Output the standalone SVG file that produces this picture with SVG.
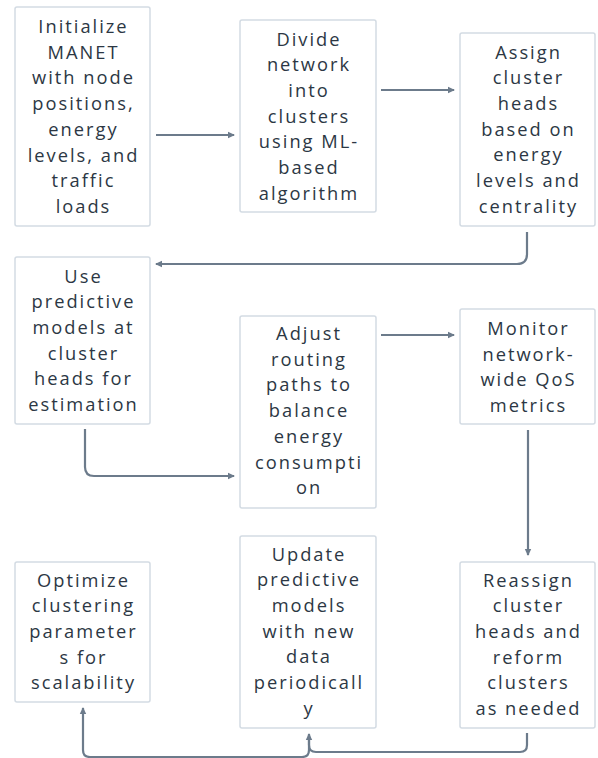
<svg xmlns="http://www.w3.org/2000/svg" width="598" height="758" viewBox="0 0 598 758">
<style>
.box{fill:#ffffff;stroke:#d3dbe3;stroke-width:1.5}
.t{font-family:"Open Sans","Liberation Sans",sans-serif;font-size:18.3px;font-weight:500;fill:#2c3744;text-anchor:middle;letter-spacing:2px}
.c{fill:none;stroke:#6c7b8b;stroke-width:2.2}
</style>
<defs>
<marker id="ah" markerWidth="8" markerHeight="8" refX="6" refY="4" orient="auto" markerUnits="userSpaceOnUse">
<path d="M0,0.8 L7,4 L0,7.2 Z" fill="#6c7b8b"/>
</marker>
</defs>
<rect width="598" height="758" fill="#ffffff"/>
<g id="connectors">
<path class="c" d="M156,135 H234" marker-end="url(#ah)"/>
<path class="c" d="M381,90 H454" marker-end="url(#ah)"/>
<path class="c" d="M527,232 V254 Q527,264 517,264 H156" marker-end="url(#ah)"/>
<path class="c" d="M85,429 V467 Q85,476 94,476 H234" marker-end="url(#ah)"/>
<path class="c" d="M381,335 H454" marker-end="url(#ah)"/>
<path class="c" d="M528,430 V555" marker-end="url(#ah)"/>
<path class="c" d="M527,733 V745 Q527,752 520,752 H316 Q309,752 309,745 V734" marker-end="url(#ah)"/>
<path class="c" d="M309,735 V750 Q309,757 302,757 H90 Q83,757 83,750 V708" marker-end="url(#ah)"/>
</g>
<g id="n1">
<rect class="box" x="15" y="7" width="135" height="219" rx="2"/>
<text class="t"><tspan x="83.5" y="33">Initialize</tspan><tspan x="83.5" y="58.7">MANET</tspan><tspan x="83.5" y="84.4">with node</tspan><tspan x="83.5" y="110.1">positions,</tspan><tspan x="83.5" y="135.8">energy</tspan><tspan x="83.5" y="161.5">levels, and</tspan><tspan x="83.5" y="187.2">traffic</tspan><tspan x="83.5" y="212.9">loads</tspan></text>
</g>
<g id="n2">
<rect class="box" x="240" y="20" width="136" height="192" rx="2"/>
<text class="t"><tspan x="309" y="45.5">Divide</tspan><tspan x="309" y="71.2">network</tspan><tspan x="309" y="96.9">into</tspan><tspan x="309" y="122.6">clusters</tspan><tspan x="309" y="148.3">using ML-</tspan><tspan x="309" y="174">based</tspan><tspan x="309" y="199.7">algorithm</tspan></text>
</g>
<g id="n3">
<rect class="box" x="460" y="33" width="135" height="193" rx="2"/>
<text class="t"><tspan x="528.5" y="58.5">Assign</tspan><tspan x="528.5" y="84.2">cluster</tspan><tspan x="528.5" y="109.9">heads</tspan><tspan x="528.5" y="135.6">based on</tspan><tspan x="528.5" y="161.3">energy</tspan><tspan x="528.5" y="187">levels and</tspan><tspan x="528.5" y="212.7">centrality</tspan></text>
</g>
<g id="n4">
<rect class="box" x="15" y="257" width="135" height="167" rx="2"/>
<text class="t"><tspan x="83.5" y="282.5">Use</tspan><tspan x="83.5" y="308.2">predictive</tspan><tspan x="83.5" y="333.9">models at</tspan><tspan x="83.5" y="359.6">cluster</tspan><tspan x="83.5" y="385.3">heads for</tspan><tspan x="83.5" y="411">estimation</tspan></text>
</g>
<g id="n5">
<rect class="box" x="240" y="316" width="136" height="192" rx="2"/>
<text class="t"><tspan x="309" y="340">Adjust</tspan><tspan x="309" y="365.7">routing</tspan><tspan x="309" y="391.4">paths to</tspan><tspan x="309" y="417.1">balance</tspan><tspan x="309" y="442.8">energy</tspan><tspan x="309" y="468.5">consumpti</tspan><tspan x="309" y="494.2">on</tspan></text>
</g>
<g id="n6">
<rect class="box" x="460" y="309" width="135" height="115" rx="2"/>
<text class="t"><tspan x="528.5" y="335">Monitor</tspan><tspan x="528.5" y="360.7">network-</tspan><tspan x="528.5" y="386.4">wide QoS</tspan><tspan x="528.5" y="412.1">metrics</tspan></text>
</g>
<g id="n7">
<rect class="box" x="15" y="562" width="135" height="140" rx="2"/>
<text class="t"><tspan x="83.5" y="586.5">Optimize</tspan><tspan x="83.5" y="612.2">clustering</tspan><tspan x="83.5" y="637.9">parameter</tspan><tspan x="83.5" y="663.6">s for</tspan><tspan x="83.5" y="689.3">scalability</tspan></text>
</g>
<g id="n8">
<rect class="box" x="240" y="536" width="136" height="192" rx="2"/>
<text class="t"><tspan x="309" y="560.5">Update</tspan><tspan x="309" y="586.2">predictive</tspan><tspan x="309" y="611.9">models</tspan><tspan x="309" y="637.6">with new</tspan><tspan x="309" y="663.3">data</tspan><tspan x="309" y="689">periodicall</tspan><tspan x="309" y="714.7">y</tspan></text>
</g>
<g id="n9">
<rect class="box" x="460" y="562" width="135" height="166" rx="2"/>
<text class="t"><tspan x="528.5" y="586.5">Reassign</tspan><tspan x="528.5" y="612.2">cluster</tspan><tspan x="528.5" y="637.9">heads and</tspan><tspan x="528.5" y="663.6">reform</tspan><tspan x="528.5" y="689.3">clusters</tspan><tspan x="528.5" y="715">as needed</tspan></text>
</g>
</svg>
